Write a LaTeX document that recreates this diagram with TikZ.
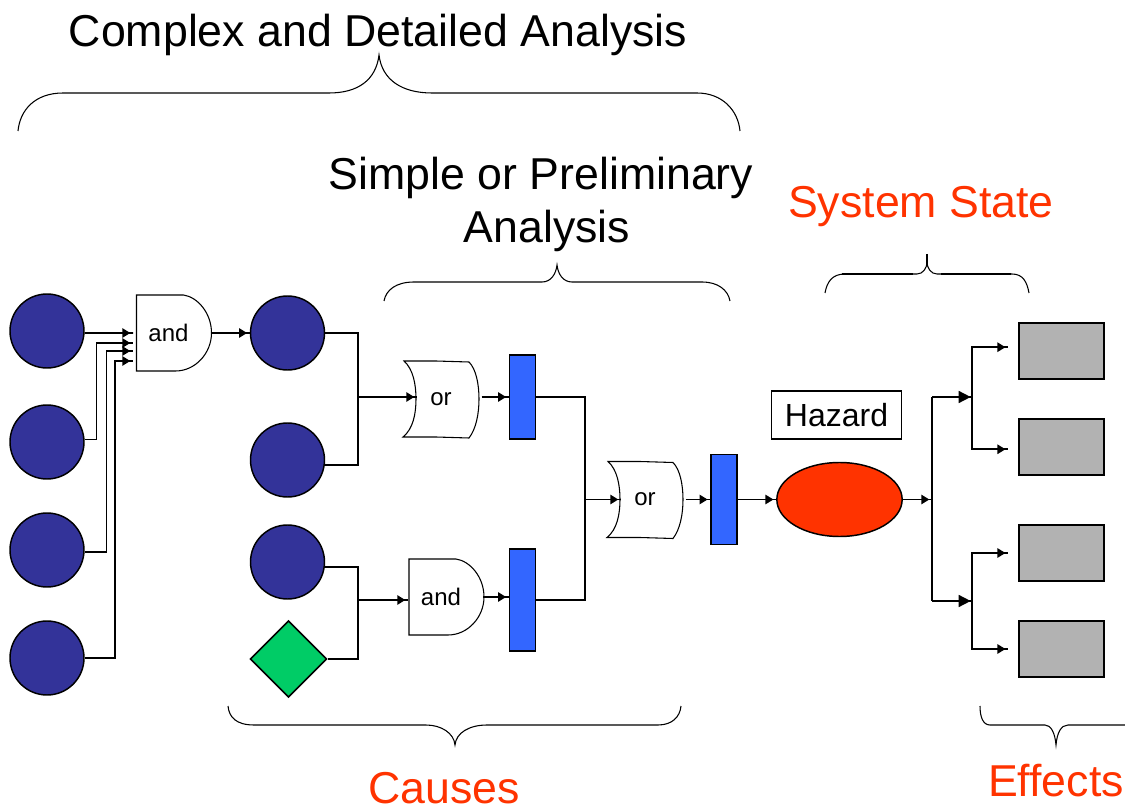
\documentclass[tikz,border=0pt]{standalone}
\usepackage{fontspec}
\setmainfont{Liberation Sans}
\usetikzlibrary{arrows.meta}
\usetikzlibrary{shapes}

% gates are drawn around a named node that holds the word
\newcommand{\AndGate}[3]{
	\draw[gateStyle, shift = {(#2, #3)}] (-37, -38) -- (10, -38) .. controls (24, -36) and (38, -20) .. (38, 0)
		.. controls (38, 20) and (22, 38) .. (2, 38) -- (-37, 38) -- cycle;
	\node[gateText] (#1) at (#2, #3) {and\kern7.5pt\relax};
}
\newcommand{\OrGate}[3]{
	\draw[gateStyle, shift = {(#2, #3)}] (-37, -38) -- (-5, -38) -- (28, -37) .. controls (35, -30) and (38, -15) .. (38, 0)
		.. controls (38, 15) and (35, 30) .. (28, 39) -- (-5, 38) -- (-38, 38) .. controls (-28, 30) and (-25, 15) .. (-25, 0)
		.. controls (-25, -15) and (-28, -30) .. (-37, -38) -- cycle;
	\node[gateText] (#1) at (#2, #3) {or};
}

\begin{document}
\begin{tikzpicture}[x = 0.75pt, y = -0.75pt]
	\definecolor{circleBlue}{HTML}{333399}
	\definecolor{barBlue}{HTML}{3366FF}
	\definecolor{hazardRed}{HTML}{FF3300}
	\definecolor{effectGray}{HTML}{B2B2B2}
	\definecolor{diamondGreen}{HTML}{00CC66}
	\tikzstyle{gateStyle} = [draw, line width = 0.8pt, fill = white]
	\tikzstyle{gateText} = [minimum width = 55.5pt, minimum height = 57pt, inner sep = 0pt, font = \fontsize{18}{18}\selectfont]
	\tikzstyle{causeStyle} = [shape = circle, minimum size = 55.5pt, inner sep = 0pt, draw, line width = 1.1pt, fill = circleBlue]
	\tikzstyle{diamondStyle} = [shape = diamond, minimum size = 57.5pt, inner sep = 0pt, draw, line width = 1.1pt, fill = diamondGreen]
	\tikzstyle{barStyle} = [shape = rectangle, minimum width = 19.5pt, inner sep = 0pt, draw, line width = 1.1pt, fill = barBlue]
	\tikzstyle{effectStyle} = [shape = rectangle, minimum width = 64pt, minimum height = 42pt, inner sep = 0pt, draw, line width = 1.1pt, fill = effectGray]
	\tikzstyle{hazardStyle} = [shape = ellipse, minimum width = 94pt, minimum height = 55.5pt, inner sep = 0pt, draw, line width = 1.1pt, fill = hazardRed]
	\tikzstyle{labelStyle} = [shape = rectangle, minimum width = 98pt, minimum height = 36pt, inner sep = 0pt, draw, line width = 0.9pt, font = \fontsize{24}{24}\selectfont]
	\tikzstyle{titleStyle} = [inner sep = 0pt, anchor = base, font = \fontsize{33.5}{33.5}\selectfont]
	\tikzstyle{redTitleStyle} = [titleStyle, text = hazardRed]
	\tikzstyle{wire} = [line width = 1.2pt]
	\tikzstyle{flow} = [wire, -{Triangle[length = 6pt, width = 7pt]Rectangle[length = 2pt, width = 1.2pt]}]
	\tikzstyle{bigFlow} = [wire, -{Triangle[length = 9pt, width = 9pt]Rectangle[length = 1pt, width = 1.2pt]}]
	\tikzstyle{braceStyle} = [line width = 0.8pt]
	\useasboundingbox (0, 0) rectangle (1125, 805);

	% left column
	\node[causeStyle] (c1) at (47, 331) {};
	\node[causeStyle] (c2) at (47, 442) {};
	\node[causeStyle] (c3) at (47, 550) {};
	\node[causeStyle] (c4) at (47, 658) {};
	% second column
	\node[causeStyle] (c5) at (287.5, 333) {};
	\node[causeStyle] (c6) at (287.5, 460) {};
	\node[causeStyle] (c7) at (287.5, 562) {};
	\node[diamondStyle] (d1) at (288.5, 659) {};
	% gates
	\AndGate{and1}{173.5}{333}
	\AndGate{and2}{446}{597}
	\OrGate{or1}{441}{399}
	\OrGate{or2}{645}{499.5}
	% bars
	\node[barStyle, minimum height = 63pt] (b1) at (522.5, 397) {};
	\node[barStyle, minimum height = 76.5pt] (b2) at (522.5, 600) {};
	\node[barStyle, minimum height = 67.5pt] (b3) at (724, 499.5) {};
	% hazard
	\node[hazardStyle] (h1) at (839.5, 499.5) {};
	\node[labelStyle] (h2) at (836.5, 415) {Hazard};
	% effects
	\node[effectStyle] (e1) at (1061.5, 351) {};
	\node[effectStyle] (e2) at (1061.5, 447) {};
	\node[effectStyle] (e3) at (1061.5, 553) {};
	\node[effectStyle] (e4) at (1061.5, 649) {};
	% junctions and free ends
	\coordinate (j1) at (358, 397);
	\coordinate (j2) at (358, 600);
	\coordinate (j3) at (585, 499.5);
	\coordinate (j4) at (932, 499.5);
	\coordinate (j5) at (972, 397);
	\coordinate (j6) at (972, 601);
	\coordinate (i1) at (133, 333);
	\coordinate (i2) at (133, 343);
	\coordinate (i3) at (133, 351);
	\coordinate (i4) at (133, 361);
	\coordinate (o1) at (417, 397);
	\coordinate (o2) at (621, 499.5);
	\coordinate (a2) at (408, 600);

	\draw[flow] (c1.-3) -- (i1);
	\draw[flow] (c2.4) -- ++(12, 0) |- (i2);
	\draw[flow] (c3.-3) -- ++(22, 0) |- (i3);
	\draw[flow] (c4.east) -- ++(30, 0) |- (i4);
	\draw[flow] (and1.east) -- (c5.west);

	\draw[wire] (c5.east) -| (j1) |- (c6.-8);
	\draw[flow] (j1) -- (o1);
	\draw[wire] (c7.-8) -| (j2) |- (d1.east);
	\draw[flow] (j2) -- (a2);

	\draw[flow, shorten < = 2.5pt] (or1.east |- b1.west) -- (b1.west);
	\draw[flow] (and2.east) -- (and2.east -| b2.west);
	\draw[wire] (b1.east) -| (j3) |- (b2.east);
	\draw[flow] (j3) -- (o2);
	\draw[flow, shorten < = 2.5pt] (or2.east) -- (b3.west);
	\draw[flow] (b3.east) -- (h1.west);
	\draw[flow] (h1.east) -- (j4);

	\draw[wire] (j5 -| j4) -- (j6 -| j4);
	\draw[bigFlow] (j4 |- j5) -- (j5);
	\draw[bigFlow] (j4 |- j6) -- (j6);
	\draw[flow, shorten > = 7.5pt] (j5) |- (e1.175);
	\draw[flow, shorten > = 7.5pt] (j5) |- (e2.183);
	\draw[flow, shorten > = 7.5pt] (j6) |- (e3.west);
	\draw[flow, shorten > = 7.5pt] (j6) |- (e4.west);

	% braces
	\draw[braceStyle] (18, 131) .. controls (20, 110) and (35, 93) .. (63, 93) -- (329, 93) .. controls (358, 93) and (376, 80) .. (379, 55)
		.. controls (382, 80) and (402, 93) .. (432, 93) -- (697, 93) .. controls (722, 93) and (738, 110) .. (740, 131);
	\draw[braceStyle] (384, 301) .. controls (386, 290) and (396, 282) .. (414, 282) -- (542, 282) .. controls (551, 282) and (556, 274) .. (557, 265)
		.. controls (558, 274) and (563, 282) .. (572, 282) -- (702, 282) .. controls (718, 282) and (728, 290) .. (730, 301);
	\draw[braceStyle] (825, 293) .. controls (827, 282) and (832, 274) .. (845, 274) -- (917, 274) .. controls (923, 274) and (927, 268) .. (927, 262)
		.. controls (927, 268) and (931, 274) .. (937, 274) -- (1012, 274) .. controls (1023, 274) and (1027, 282) .. (1029, 293);
	\draw[line width = 2pt] (842, 274) -- (913, 274) (941, 274) -- (1011, 274) (927, 254) -- (927, 264);
	\draw[braceStyle] (228, 706) .. controls (229, 717) and (236, 725) .. (254, 725) -- (426, 725) .. controls (441, 725) and (454, 733) .. (455, 745)
		.. controls (456, 733) and (469, 725) .. (487, 725) -- (658, 725) .. controls (672, 725) and (680, 717) .. (681, 706);
	\draw[braceStyle] (980, 706) .. controls (980, 717) and (983, 725) .. (990, 725) -- (1045, 725) .. controls (1051, 725) and (1055, 733) .. (1056, 745)
		.. controls (1057, 733) and (1061, 725) .. (1068, 725) -- (1125, 725);

	% titles
	\node[titleStyle] (t1) at (378, 46.5) {Complex and Detailed Analysis};
	\node[titleStyle] (t2) at (541, 190) {Simple or Preliminary};
	\node[titleStyle] (t3) at (547, 242.5) {Analysis};
	\node[redTitleStyle] (t4) at (921, 217.5) {System State};
	\node[redTitleStyle] (t5) at (444, 803) {Causes};
	\node[redTitleStyle] (t6) at (1056, 796) {Effects};
\end{tikzpicture}
\end{document}
